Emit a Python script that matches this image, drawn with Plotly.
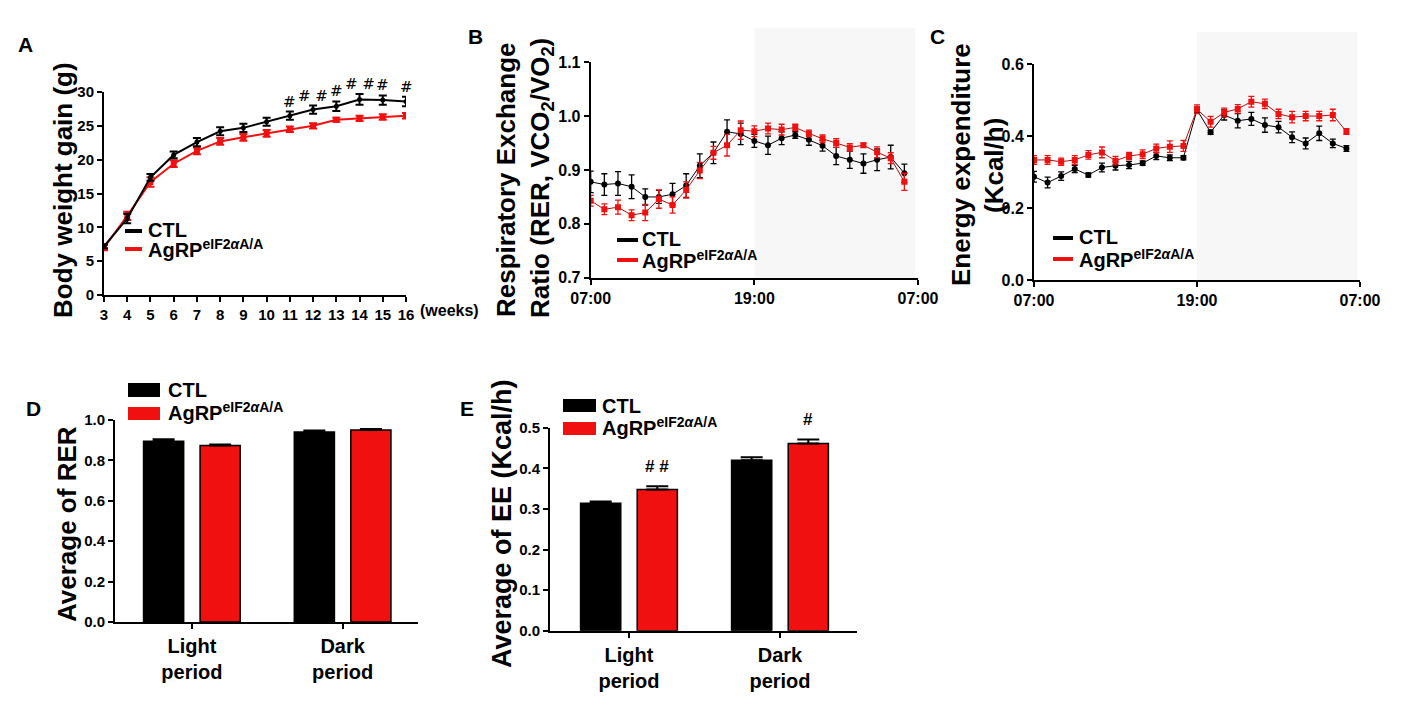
import plotly.graph_objects as go

# ---------------- data ----------------
weeks = [3, 4, 5, 6, 7, 8, 9, 10, 11, 12, 13, 14, 15, 16]
bw_ctl = [7.2, 11.3, 17.4, 20.7, 22.6, 24.2, 24.7, 25.6, 26.5, 27.4, 27.9, 28.9, 28.8, 28.6]
bw_ctl_err = [0.3, 0.7, 0.5, 0.5, 0.6, 0.6, 0.6, 0.6, 0.6, 0.6, 0.7, 0.8, 0.7, 0.7]
bw_agrp = [7.0, 11.7, 16.7, 19.4, 21.3, 22.7, 23.3, 23.9, 24.5, 25.0, 25.9, 26.1, 26.3, 26.5]
bw_agrp_err = [0.4, 0.6, 0.7, 0.5, 0.5, 0.5, 0.5, 0.5, 0.4, 0.4, 0.3, 0.4, 0.4, 0.4]
bw_sig = ["", "", "", "", "", "", "", "", "#", "# #", "#", "# #", "#", "#"]

hours = list(range(24))  # hours after 07:00
time_tickvals = [0, 12, 24]
time_ticktext = ["07:00", "19:00", "07:00"]
dark_start, dark_end = 12, 23.8

rer_ctl = [0.878, 0.873, 0.875, 0.869, 0.850, 0.850, 0.855, 0.871, 0.908, 0.932, 0.971, 0.967,
           0.954, 0.946, 0.959, 0.965, 0.956, 0.945, 0.926, 0.919, 0.912, 0.919, 0.924, 0.894]
rer_ctl_err = [0.02, 0.02, 0.022, 0.022, 0.015, 0.012, 0.02, 0.022, 0.022, 0.02, 0.022, 0.02,
               0.012, 0.017, 0.012, 0.006, 0.01, 0.01, 0.016, 0.016, 0.018, 0.02, 0.022, 0.017]
rer_agrp = [0.843, 0.827, 0.831, 0.816, 0.821, 0.846, 0.835, 0.863, 0.899, 0.932, 0.946, 0.974,
            0.972, 0.977, 0.975, 0.979, 0.968, 0.958, 0.950, 0.942, 0.946, 0.933, 0.922, 0.878]
rer_agrp_err = [0.01, 0.01, 0.013, 0.01, 0.015, 0.017, 0.015, 0.015, 0.015, 0.012, 0.02, 0.017,
                0.01, 0.01, 0.01, 0.006, 0.006, 0.007, 0.008, 0.007, 0.004, 0.01, 0.01, 0.016]

ee_ctl = [0.287, 0.271, 0.289, 0.309, 0.292, 0.313, 0.318, 0.320, 0.325, 0.345, 0.340, 0.340,
          0.473, 0.411, 0.459, 0.443, 0.448, 0.431, 0.425, 0.397, 0.380, 0.408, 0.380, 0.366]
ee_ctl_err = [0.015, 0.015, 0.012, 0.01, 0.006, 0.012, 0.012, 0.01, 0.006, 0.01, 0.008, 0.006,
              0.008, 0.006, 0.014, 0.02, 0.018, 0.02, 0.016, 0.015, 0.015, 0.02, 0.012, 0.008]
ee_agrp = [0.334, 0.334, 0.329, 0.334, 0.348, 0.355, 0.332, 0.345, 0.350, 0.366, 0.371, 0.373,
           0.475, 0.440, 0.466, 0.476, 0.496, 0.490, 0.462, 0.453, 0.456, 0.456, 0.459, 0.413]
ee_agrp_err = [0.012, 0.012, 0.01, 0.012, 0.012, 0.015, 0.012, 0.01, 0.012, 0.012, 0.016, 0.015,
               0.012, 0.015, 0.012, 0.012, 0.015, 0.013, 0.013, 0.016, 0.013, 0.013, 0.016, 0.008]

periods = ["Light period", "Dark period"]
period_ticktext = ["Light<br>period", "Dark<br>period"]
avg_rer_ctl = [0.895, 0.940]
avg_rer_ctl_err = [0.01, 0.008]
avg_rer_agrp = [0.874, 0.951]
avg_rer_agrp_err = [0.005, 0.004]
avg_ee_ctl = [0.314, 0.420]
avg_ee_ctl_err = [0.004, 0.007]
avg_ee_agrp = [0.348, 0.461]
avg_ee_agrp_err = [0.008, 0.01]
avg_ee_sig = ["# #", "#"]

CTL_NAME = "CTL"
AGRP_NAME = "AgRP<sup>eIF2<i>α</i>A/A</sup>"

# ---------------- style ----------------
W, H = 1402, 701
BLACK = "#000000"
RED = "#f01010"
DARKRED = "#b01010"
FONT = "Liberation Sans, Arial, sans-serif"


def px(x):
    return x / W


def py(y):
    return 1 - y / H


fig = go.Figure()

# Panel A
fig.add_trace(go.Scatter(x=weeks, y=bw_agrp, mode="lines+markers", xaxis="x", yaxis="y",
                         line=dict(color=RED, width=2), marker=dict(symbol="square", size=6, color=RED),
                         error_y=dict(type="data", array=bw_agrp_err, color=RED, thickness=2, width=4),
                         showlegend=False))
fig.add_trace(go.Scatter(x=weeks, y=bw_ctl, mode="lines+markers", xaxis="x", yaxis="y",
                         line=dict(color=BLACK, width=2), marker=dict(symbol="circle", size=5, color=BLACK),
                         error_y=dict(type="data", array=bw_ctl_err, color=BLACK, thickness=2, width=4),
                         showlegend=False))

# Panel B
fig.add_trace(go.Scatter(x=hours, y=rer_ctl, mode="lines+markers", xaxis="x2", yaxis="y2",
                         line=dict(color=BLACK, width=1), marker=dict(symbol="circle", size=6, color=BLACK),
                         error_y=dict(type="data", array=rer_ctl_err, color=BLACK, thickness=1.3, width=3),
                         showlegend=False))
fig.add_trace(go.Scatter(x=hours, y=rer_agrp, mode="lines+markers", xaxis="x2", yaxis="y2",
                         line=dict(color=DARKRED, width=1), marker=dict(symbol="square", size=6, color=RED),
                         error_y=dict(type="data", array=rer_agrp_err, color=RED, thickness=1.3, width=3),
                         showlegend=False))

# Panel C
fig.add_trace(go.Scatter(x=hours, y=ee_ctl, mode="lines+markers", xaxis="x3", yaxis="y3",
                         line=dict(color=BLACK, width=1), marker=dict(symbol="circle", size=6, color=BLACK),
                         error_y=dict(type="data", array=ee_ctl_err, color=BLACK, thickness=1.3, width=3),
                         showlegend=False))
fig.add_trace(go.Scatter(x=hours, y=ee_agrp, mode="lines+markers", xaxis="x3", yaxis="y3",
                         line=dict(color=DARKRED, width=1), marker=dict(symbol="square", size=6, color=RED),
                         error_y=dict(type="data", array=ee_agrp_err, color=RED, thickness=1.3, width=3),
                         showlegend=False))

# Panel D
fig.add_trace(go.Bar(x=periods, y=avg_rer_ctl, xaxis="x4", yaxis="y4", marker=dict(color=BLACK, line=dict(color=BLACK, width=1.5)),
                     error_y=dict(type="data", symmetric=False, array=avg_rer_ctl_err, arrayminus=[0, 0],
                                  color=BLACK, thickness=2, width=11), showlegend=False))
fig.add_trace(go.Bar(x=periods, y=avg_rer_agrp, xaxis="x4", yaxis="y4", marker=dict(color=RED, line=dict(color=BLACK, width=1.5)),
                     error_y=dict(type="data", symmetric=False, array=avg_rer_agrp_err, arrayminus=[0, 0],
                                  color=BLACK, thickness=2, width=11), showlegend=False))

# Panel E
fig.add_trace(go.Bar(x=periods, y=avg_ee_ctl, xaxis="x5", yaxis="y5", marker=dict(color=BLACK, line=dict(color=BLACK, width=1.5)),
                     error_y=dict(type="data", symmetric=False, array=avg_ee_ctl_err, arrayminus=[0, 0],
                                  color=BLACK, thickness=2, width=11), showlegend=False))
fig.add_trace(go.Bar(x=periods, y=avg_ee_agrp, xaxis="x5", yaxis="y5", marker=dict(color=RED, line=dict(color=BLACK, width=1.5)),
                     error_y=dict(type="data", symmetric=False, array=avg_ee_agrp_err, arrayminus=[0, 0],
                                  color=BLACK, thickness=2, width=11), showlegend=False))

tickfont = dict(family=FONT, size=15, color=BLACK, weight="bold")
axis_common = dict(showline=True, linecolor=BLACK, linewidth=2, ticks="outside", ticklen=5,
                   tickwidth=2, tickcolor=BLACK, showgrid=False, zeroline=False, tickfont=tickfont,
                   automargin=False)

layout = dict(
    width=W, height=H, margin=dict(l=0, r=0, t=0, b=0),
    paper_bgcolor="white", plot_bgcolor="rgba(0,0,0,0)",
    barmode="group", bargap=0.25, bargroupgap=0.29,
    font=dict(family=FONT, color=BLACK),
    xaxis=dict(axis_common, domain=[px(104), px(406)], range=[3, 16], anchor="y",
               tickvals=weeks, tickfont=dict(tickfont, size=15)),
    yaxis=dict(axis_common, domain=[py(295), py(92)], range=[0, 30], anchor="x",
               tickvals=[0, 5, 10, 15, 20, 25, 30]),
    xaxis2=dict(axis_common, domain=[px(590.7), px(918)], range=[0, 24], anchor="y2",
                tickvals=time_tickvals, ticktext=time_ticktext, tickfont=dict(tickfont, size=16)),
    yaxis2=dict(axis_common, domain=[py(277.7), py(62.3)], range=[0.7, 1.1], anchor="x2",
                tickvals=[0.7, 0.8, 0.9, 1.0, 1.1], ticktext=["0.7", "0.8", "0.9", "1.0", "1.1"],
                tickfont=dict(tickfont, size=16)),
    xaxis3=dict(axis_common, domain=[px(1034), px(1360)], range=[0, 24], anchor="y3",
                tickvals=time_tickvals, ticktext=time_ticktext, tickfont=dict(tickfont, size=16)),
    yaxis3=dict(axis_common, domain=[py(280), py(64.3)], range=[0, 0.6], anchor="x3",
                tickvals=[0, 0.2, 0.4, 0.6], ticktext=["0.0", "0.2", "0.4", "0.6"],
                tickfont=dict(tickfont, size=16)),
    xaxis4=dict(axis_common, domain=[px(115), px(418)], range=[-0.51, 1.5], anchor="y4", type="category",
                tickvals=periods, ticktext=period_ticktext, tickfont=dict(tickfont, size=20)),
    yaxis4=dict(axis_common, domain=[py(622), py(420)], range=[0, 1.0], anchor="x4",
                tickvals=[0, 0.2, 0.4, 0.6, 0.8, 1.0], ticktext=["0.0", "0.2", "0.4", "0.6", "0.8", "1.0"]),
    xaxis5=dict(axis_common, domain=[px(550), px(857)], range=[-0.523, 1.51], anchor="y5", type="category",
                tickvals=periods, ticktext=period_ticktext, tickfont=dict(tickfont, size=20)),
    yaxis5=dict(axis_common, domain=[py(630.7), py(427.7)], range=[0, 0.5], anchor="x5",
                tickvals=[0, 0.1, 0.2, 0.3, 0.4, 0.5], ticktext=["0.0", "0.1", "0.2", "0.3", "0.4", "0.5"]),
)
fig.update_layout(**layout)

shapes = []
# dark-period shading
for xr, yr, top in (("x2", "y2", 1.16), ("x3", "y3", 1.15)):
    shapes.append(dict(type="rect", xref=xr, yref=yr + " domain", x0=dark_start, x1=dark_end, y0=0, y1=top,
                       fillcolor="#f7f7f7", line=dict(width=0), layer="below"))

annotations = []


def txt(x, y, text, size, xanchor="center", yanchor="middle", angle=0, weight="bold"):
    annotations.append(dict(xref="paper", yref="paper", x=px(x), y=py(y), text=text, showarrow=False,
                            xanchor=xanchor, yanchor=yanchor, textangle=angle,
                            font=dict(family=FONT, size=size, color=BLACK, weight=weight)))


# panel letters
for letter, x, y in (("A", 25, 45), ("B", 475, 37), ("C", 937, 37), ("D", 33, 409), ("E", 467, 409)):
    txt(x, y, letter, 21)

# axis titles
txt(63, 190, "Body weight gain (g)", 26, angle=-90)
txt(506, 180, "Respiratory Exchange", 26, angle=-90)
txt(541, 178, "Ratio (RER, VCO<sub>2</sub>/VO<sub>2</sub>)", 26, angle=-90)
txt(961, 164, "Energy expenditure", 26, angle=-90)
txt(994, 166, "(Kcal/h)", 26, angle=-90)
txt(67, 524, "Average of RER", 26, angle=-90)
txt(502, 523, "Average of EE (Kcal/h)", 27, angle=-90)
txt(418, 311, "(weeks)", 16, xanchor="left")


# legends (line swatches)
def line_legend(x0, x1, y_ctl, y_agrp, xt, width):
    shapes.append(dict(type="line", xref="paper", yref="paper", x0=px(x0), x1=px(x1), y0=py(y_ctl), y1=py(y_ctl),
                       line=dict(color=BLACK, width=width)))
    shapes.append(dict(type="line", xref="paper", yref="paper", x0=px(x0), x1=px(x1), y0=py(y_agrp), y1=py(y_agrp),
                       line=dict(color=RED, width=width)))
    txt(xt, y_ctl - 1, CTL_NAME, 20, xanchor="left")
    txt(xt, y_agrp - 1, AGRP_NAME, 20, xanchor="left")


def box_legend(x0, x1, yc0, yc1, ya0, ya1, xt):
    shapes.append(dict(type="rect", xref="paper", yref="paper", x0=px(x0), x1=px(x1), y0=py(yc1), y1=py(yc0),
                       fillcolor=BLACK, line=dict(width=0)))
    shapes.append(dict(type="rect", xref="paper", yref="paper", x0=px(x0), x1=px(x1), y0=py(ya1), y1=py(ya0),
                       fillcolor=RED, line=dict(width=0)))
    txt(xt, (yc0 + yc1) / 2, CTL_NAME, 20, xanchor="left")
    txt(xt, (ya0 + ya1) / 2 - 2, AGRP_NAME, 20, xanchor="left")


line_legend(125, 142, 231, 249, 146, 4)
line_legend(617, 638, 240, 260, 640, 4)
line_legend(1053, 1073, 238, 259, 1077, 4)
box_legend(128, 160, 383, 397, 407, 420, 166)
box_legend(563, 596, 399, 412, 422, 435, 600)

# significance marks
for w, v, e, s in zip(weeks, bw_ctl, bw_ctl_err, bw_sig):
    if s:
        annotations.append(dict(xref="x", yref="y", x=w, y=v + e, text=s, showarrow=False, yanchor="bottom",
                                yshift=-1, font=dict(family="DejaVu Serif, serif", size=15, color=BLACK)))
for p, v, e, s in zip(periods, avg_ee_agrp, avg_ee_agrp_err, avg_ee_sig):
    annotations.append(dict(xref="x5", yref="y5", x=p, y=v + e, text=s, showarrow=False, yanchor="bottom",
                            xshift=28, yshift=8, font=dict(family=FONT, size=17, color=BLACK, weight="bold")))

fig.update_layout(shapes=shapes, annotations=annotations)
fig.write_html("out.html", config={"displayModeBar": False},
               post_script="document.body.style.margin='0';")
